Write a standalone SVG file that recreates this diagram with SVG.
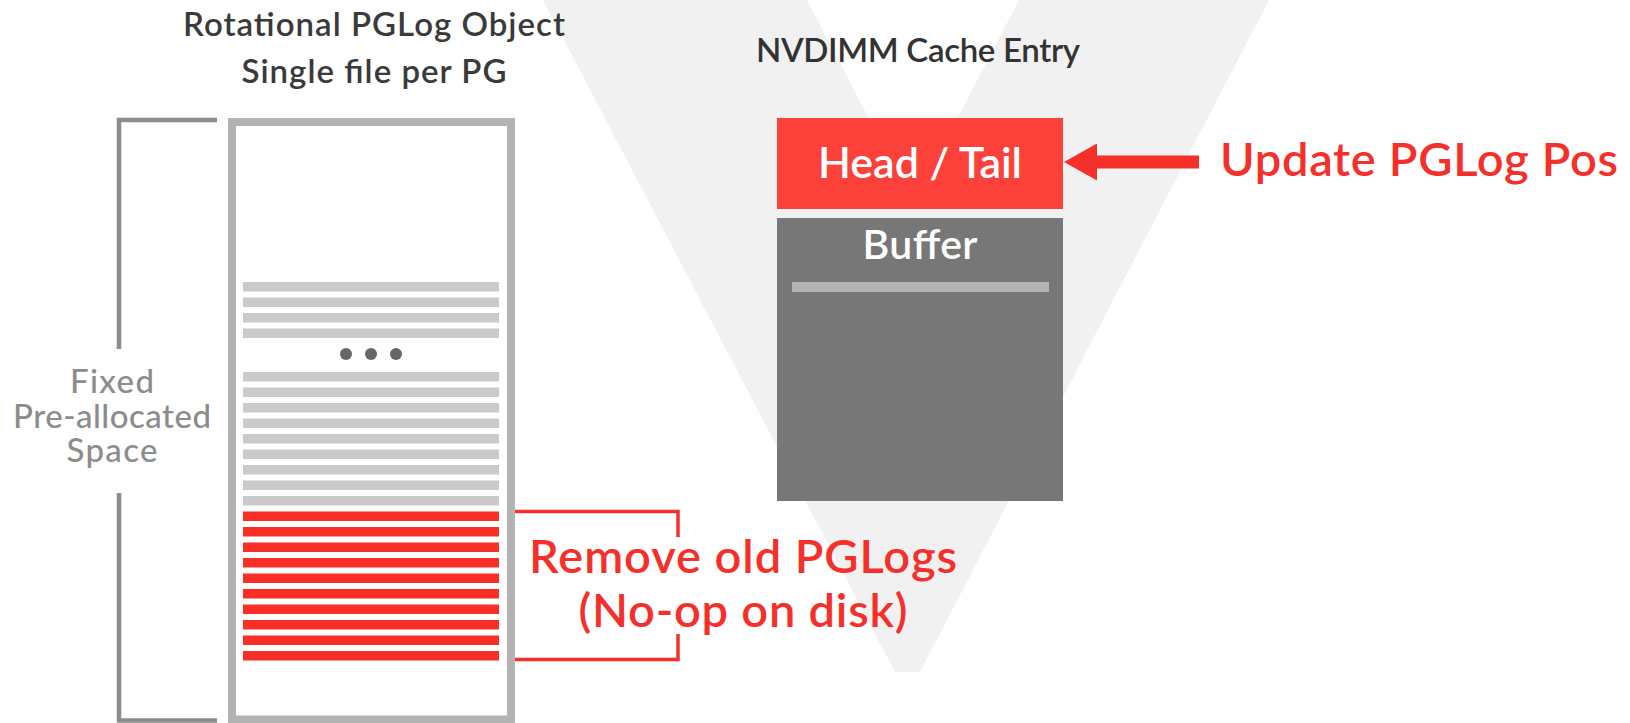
<svg xmlns="http://www.w3.org/2000/svg" width="1630" height="723" viewBox="0 0 1630 723">
  <defs>
    <style>
      text { font-family: Lato, "Noto Sans", "Liberation Sans", sans-serif; }
      .heading { font-size: 33px; fill: #3a3a3a; text-anchor: middle; font-weight: 600; }
      .side { font-size: 33px; fill: #8c8c8c; text-anchor: middle; font-weight: 500; }
      .red-label { font-size: 47px; fill: #f5302a; font-weight: 600; }
      .box-label { fill: #ffffff; text-anchor: middle; font-weight: 600; }
      .bar-grey { fill: #cacaca; }
      .bar-red { fill: #f72f26; }
      .bracket-grey { fill: none; stroke: #8c8c8c; stroke-width: 4.5; }
      .bracket-red { fill: none; stroke: #f5302a; stroke-width: 3.5; }
    </style>
    <marker id="arrowhead" markerUnits="userSpaceOnUse" viewBox="0 0 33 37" markerWidth="33" markerHeight="37" refX="0" refY="18.5" orient="auto">
      <path d="M0,0 L33,18.5 L0,37 Z" fill="#f5302a"/>
    </marker>
  </defs>

  <!-- backdrop V -->
  <polygon id="backdrop" points="543,0 807,0 913,203 1019,0 1269,0 920,672 895,672" fill="#f1f1f1"/>

  <!-- left column: rotational PGLog object -->
  <g id="object-title">
    <text class="heading" x="374" y="36" textLength="382" lengthAdjust="spacing">Rotational PGLog Object</text>
    <text class="heading" x="374" y="83" textLength="265" lengthAdjust="spacing">Single file per PG</text>
  </g>

  <g id="space-bracket">
    <path class="bracket-grey" d="M217,120 H119 V349"/>
    <path class="bracket-grey" d="M119,493 V720.5 H217"/>
    <text class="side" x="112" y="393" textLength="84" lengthAdjust="spacing">Fixed</text>
    <text class="side" x="112" y="428" textLength="198" lengthAdjust="spacing">Pre-allocated</text>
    <text class="side" x="112" y="462" textLength="91" lengthAdjust="spacing">Space</text>
  </g>

  <g id="pglog-object">
    <rect x="232" y="122" width="279" height="597.5" fill="#ffffff" stroke="#b3b3b3" stroke-width="8"/>
    <g id="entries-top">
      <rect class="bar-grey" x="243" y="282" width="256" height="9.5"/>
      <rect class="bar-grey" x="243" y="297.5" width="256" height="9.5"/>
      <rect class="bar-grey" x="243" y="313" width="256" height="9.5"/>
      <rect class="bar-grey" x="243" y="328.5" width="256" height="9.5"/>
    </g>
    <g id="ellipsis" fill="#666666">
      <circle cx="346" cy="354" r="6"/>
      <circle cx="371" cy="354" r="6"/>
      <circle cx="396" cy="354" r="6"/>
    </g>
    <g id="entries-live">
      <rect class="bar-grey" x="243" y="372" width="256" height="9.5"/>
      <rect class="bar-grey" x="243" y="387.5" width="256" height="9.5"/>
      <rect class="bar-grey" x="243" y="403" width="256" height="9.5"/>
      <rect class="bar-grey" x="243" y="418.5" width="256" height="9.5"/>
      <rect class="bar-grey" x="243" y="434" width="256" height="9.5"/>
      <rect class="bar-grey" x="243" y="449.5" width="256" height="9.5"/>
      <rect class="bar-grey" x="243" y="465" width="256" height="9.5"/>
      <rect class="bar-grey" x="243" y="480.5" width="256" height="9.5"/>
      <rect class="bar-grey" x="243" y="496" width="256" height="9.5"/>
    </g>
    <g id="entries-old">
      <rect class="bar-red" x="243" y="511.5" width="256" height="9.5"/>
      <rect class="bar-red" x="243" y="527" width="256" height="9.5"/>
      <rect class="bar-red" x="243" y="542.5" width="256" height="9.5"/>
      <rect class="bar-red" x="243" y="558" width="256" height="9.5"/>
      <rect class="bar-red" x="243" y="573.5" width="256" height="9.5"/>
      <rect class="bar-red" x="243" y="589" width="256" height="9.5"/>
      <rect class="bar-red" x="243" y="604.5" width="256" height="9.5"/>
      <rect class="bar-red" x="243" y="620" width="256" height="9.5"/>
      <rect class="bar-red" x="243" y="635.5" width="256" height="9.5"/>
      <rect class="bar-red" x="243" y="651" width="256" height="9.5"/>
    </g>
  </g>

  <g id="remove-note">
    <path class="bracket-red" d="M515,511.5 H678 V537"/>
    <path class="bracket-red" d="M678,634 V659.5 H515"/>
    <text class="red-label" x="743" y="573" text-anchor="middle" textLength="428" lengthAdjust="spacing">Remove old PGLogs</text>
    <text class="red-label" x="743" y="627" text-anchor="middle" textLength="329" lengthAdjust="spacing">(No-op on disk)</text>
  </g>

  <!-- right column: NVDIMM cache entry -->
  <g id="cache-title">
    <text class="heading" x="918" y="62" style="fill:#333333" textLength="324" lengthAdjust="spacing">NVDIMM Cache Entry</text>
  </g>

  <g id="head-tail">
    <rect x="777" y="118" width="286" height="91" fill="#fc403a"/>
    <text class="box-label" x="920" y="178" font-size="43" textLength="204" lengthAdjust="spacing">Head / Tail</text>
  </g>

  <g id="buffer">
    <rect x="777" y="218" width="286" height="283" fill="#777777"/>
    <text class="box-label" x="920" y="259" font-size="41" textLength="115" lengthAdjust="spacing">Buffer</text>
    <rect x="792" y="282" width="257" height="10" fill="#b3b3b3"/>
  </g>

  <g id="connectors">
    <line x1="1199" y1="162" x2="1097" y2="162" stroke="#f5302a" stroke-width="13" marker-end="url(#arrowhead)"/>
  </g>

  <g id="update-note">
    <text class="red-label" x="1220" y="176" textLength="398" lengthAdjust="spacing">Update PGLog Pos</text>
  </g>
</svg>
